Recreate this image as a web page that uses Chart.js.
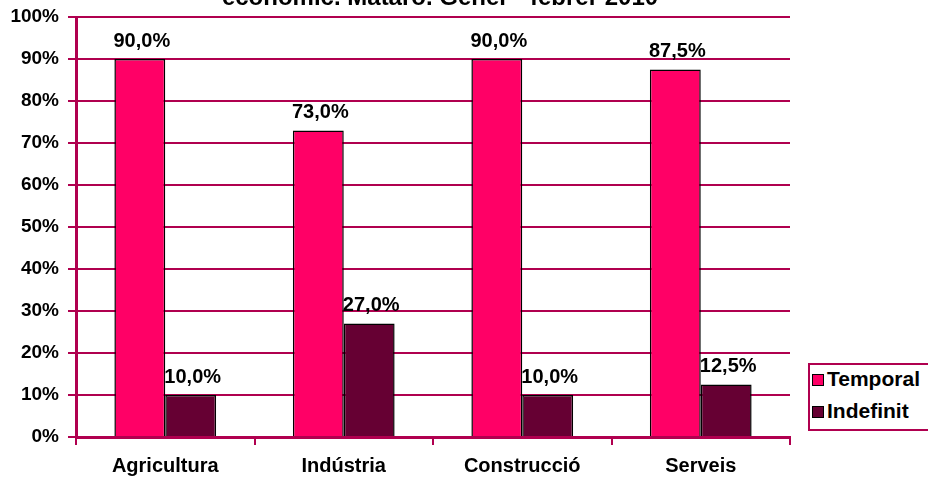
<!DOCTYPE html>
<html>
<head>
<meta charset="utf-8">
<script src="https://cdn.jsdelivr.net/npm/chart.js@4/dist/chart.umd.min.js"></script>
<style>
  body { margin: 0; background: #fff; font-family: "Liberation Sans", Arial, sans-serif; }
  #wrap { position: relative; width: 928px; height: 482px; }
  #legend {
    position: absolute; left: 808px; top: 363px; width: 130px; height: 68px;
    border: 2px solid #b0004f; box-sizing: border-box; background: #fff;
    font-weight: bold; font-size: 21px; color: #000;
  }
  .item { position: absolute; left: 2px; height: 24px; line-height: 24px; white-space: nowrap; }
  .item span { display: inline-block; width: 10px; height: 10px; border: 1px solid #000; margin-right: 3px; vertical-align: 0px; }
</style>
</head>
<body>
<div id="wrap">
  <canvas id="chart" width="928" height="482"></canvas>
  <div id="legend">
    <div class="item" style="top:2px"><span style="background:#ff0066"></span>Temporal</div>
    <div class="item" style="top:34px"><span style="background:#660033"></span>Indefinit</div>
  </div>
</div>
<script>
const titleText = 'econòmic. Mataró. Gener - febrer 2010';
const categories = ['Agricultura', 'Indústria', 'Construcció', 'Serveis'];
const temporal = [90.0, 73.0, 90.0, 87.5];
const indefinit = [10.0, 27.0, 10.0, 12.5];

const crimson = '#b0004f';
const fam = '"Liberation Sans", Arial, sans-serif';

const fmt = v => v.toFixed(1).replace('.', ',') + '%';

// title is cut off at the top of the picture, only its lower part shows
const titlePlugin = {
  id: 'cutTitle',
  afterDraw(chart) {
    const ctx = chart.ctx;
    ctx.save();
    ctx.font = 'bold 24px ' + fam;
    ctx.fillStyle = '#000';
    ctx.textAlign = 'center';
    ctx.textBaseline = 'alphabetic';
    ctx.fillText(titleText, 440, 5);
    ctx.restore();
  }
};

// value labels above the bars
const labelPlugin = {
  id: 'barLabels',
  afterDatasetsDraw(chart) {
    const ctx = chart.ctx;
    ctx.save();
    ctx.font = 'bold 20px ' + fam;
    ctx.fillStyle = '#000';
    ctx.textAlign = 'center';
    ctx.textBaseline = 'middle';
    chart.data.datasets.forEach((ds, i) => {
      chart.getDatasetMeta(i).data.forEach((bar, j) => {
        ctx.fillText(fmt(ds.data[j]), bar.x + 2, bar.y - 18);
      });
    });
    ctx.restore();
  }
};

new Chart(document.getElementById('chart'), {
  type: 'bar',
  data: {
    labels: categories,
    datasets: [
      { label: 'Temporal', data: temporal, backgroundColor: '#ff0066', borderColor: '#000', borderWidth: 1.5 },
      { label: 'Indefinit', data: indefinit, backgroundColor: '#660033', borderColor: '#000', borderWidth: 1.5 }
    ]
  },
  options: {
    responsive: false,
    animation: false,
    layout: { padding: { top: 17, right: 138, left: 0, bottom: 0 } },
    datasets: { bar: { categoryPercentage: 0.57, barPercentage: 1 } },
    plugins: { legend: { display: false }, title: { display: false }, tooltip: { enabled: false } },
    scales: {
      x: {
        grid: { offset: true, drawOnChartArea: false, color: crimson, lineWidth: 2, tickLength: 8 },
        border: { color: crimson, width: 3 },
        ticks: { color: '#000', font: { family: fam, size: 20, weight: 'bold' }, padding: 9 },
        afterFit(s) { s.height = 45; }
      },
      y: {
        min: 0, max: 100,
        grid: { color: crimson, lineWidth: 2, tickLength: 8 },
        border: { color: crimson, width: 3 },
        ticks: { stepSize: 10, color: '#000', font: { family: fam, size: 19, weight: 'bold' }, padding: 9, callback: v => v + '%' },
        afterFit(s) { s.width = 76; s.paddingTop = 0; s.paddingBottom = 0; }
      }
    }
  },
  plugins: [labelPlugin, titlePlugin]
});
</script>
</body>
</html>
